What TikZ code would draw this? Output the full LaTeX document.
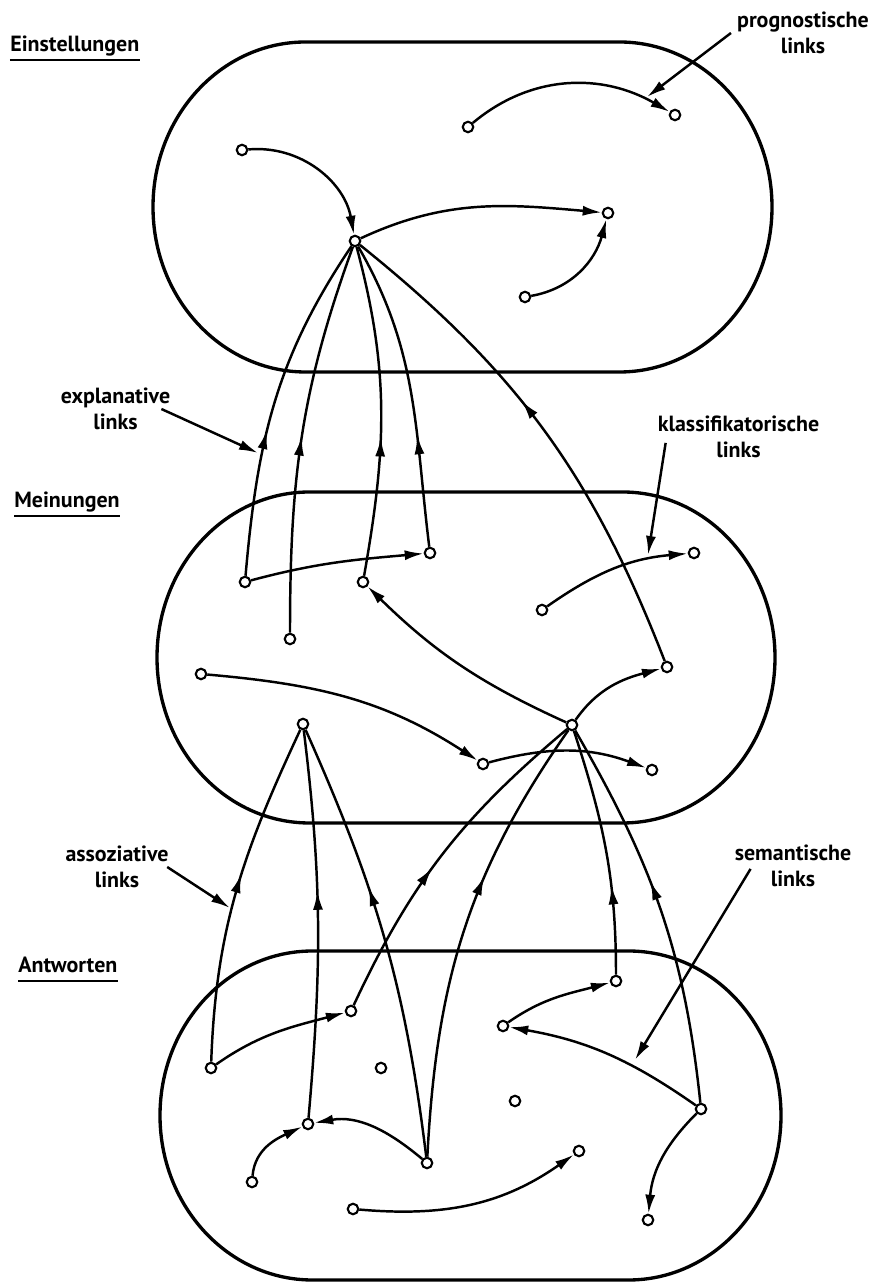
\documentclass[tikz,border=0pt]{standalone}
\usepackage{fontspec}
\setmainfont{PT Sans}
\usetikzlibrary{arrows.meta,decorations.markings}

\begin{document}
\begin{tikzpicture}[>={Latex[length=3.8mm,width=2mm]},
      every node/.append style={font=\fontsize{12.5}{14.5}\selectfont\bfseries},
      dot/.style={circle, draw, fill=white, line width=1.2pt, minimum size=2.1mm, inner sep=0pt},
      layer/.style={line width=1.9pt},
      link/.style={->, line width=1.4pt},
      uplink/.style={line width=1.4pt, postaction={decorate,
          decoration={markings, mark=at position #1 with {\arrow{>}}}}},
      heading/.style={anchor=base west, inner sep=0pt},
      uline/.style={line width=1.6pt},
      lbl/.style={align=center}]

    \useasboundingbox (0,0) rectangle (17.5,25.66);

    % ---------------- the three layers ----------------
    \foreach \xa/\xb/\yb/\yt in {3.06/15.44/18.22/24.82, 3.14/15.50/9.20/15.82, 3.20/15.62/0.06/6.64}
      \draw[layer] (\xa+3.05,\yt) -- (\xb-3.05,\yt)
        arc[start angle=90, end angle=-90, x radius=3.05, y radius={(\yt-\yb)/2}]
        -- (\xa+3.05,\yb)
        arc[start angle=270, end angle=90, x radius=3.05, y radius={(\yt-\yb)/2}] -- cycle;

    \node[heading] (einst) at (0.20,24.62) {Einstellungen};
    \node[heading] (mein)  at (0.28,15.50) {Meinungen};
    \node[heading] (antw)  at (0.36,6.20)  {Antworten};
    \foreach \n in {einst, mein, antw}
      \draw[uline] ([yshift=-0.16cm]\n.base west) -- ([yshift=-0.16cm]\n.base east);

    % ---------------- link labels ----------------
    \node[lbl] (prog)  at (16.06,25.00) {prognostische\\links};
    \node[lbl] (expl)  at (2.31,17.48)  {explanative\\links};
    \node[lbl] (klass) at (14.77,16.92) {klassifikatorische\\links};
    \node[lbl] (assoz) at (2.34,8.32)   {assoziative\\links};
    \node[lbl] (sem)   at (15.86,8.34)  {semantische\\links};

    \coordinate (prog-tip)  at (12.94,23.72);
    \coordinate (expl-tip)  at (5.16,16.60);
    \coordinate (klass-tip) at (12.96,14.56);
    \coordinate (assoz-tip) at (4.60,7.50);
    \coordinate (sem-tip)   at (12.70,4.46);

    \draw[link] (prog.west) -- (prog-tip);
    \draw[link] ([xshift=-0.3cm]expl.east) -- (expl-tip);
    \draw[link] ([shift={(0.28,0.42)}]klass.south west) -- (klass-tip);
    \draw[link] ([xshift=-0.15cm]assoz.east) -- (assoz-tip);
    \draw[link] ([shift={(0.44,0.48)}]sem.south west) -- (sem-tip);

    % ---------------- Einstellungen ----------------
    \node[dot] (e1) at (4.84,22.66) {};
    \node[dot] (e2) at (7.10,20.84) {};
    \node[dot] (e3) at (9.36,23.12) {};
    \node[dot] (e4) at (13.50,23.36) {};
    \node[dot] (e5) at (12.16,21.40) {};
    \node[dot] (e6) at (10.50,19.72) {};

    \draw[link] (e1) to[out=5, in=100] (e2);
    \draw[link] (e3) to[out=40, in=150] (e4);
    \draw[link] (e2) to[out=25, in=175] (e5);
    \draw[link] (e6) to[out=10, in=255] (e5);

    % ---------------- Meinungen ----------------
    \node[dot] (m1)  at (4.90,14.02) {};
    \node[dot] (m2)  at (5.80,12.88) {};
    \node[dot] (m3)  at (7.26,14.02) {};
    \node[dot] (m4)  at (8.60,14.60) {};
    \node[dot] (m5)  at (4.02,12.18) {};
    \node[dot] (m6)  at (6.06,11.18) {};
    \node[dot] (m7)  at (10.84,13.46) {};
    \node[dot] (m8)  at (13.88,14.60) {};
    \node[dot] (m9)  at (11.44,11.16) {};
    \node[dot] (m10) at (13.34,12.32) {};
    \node[dot] (m11) at (9.66,10.38) {};
    \node[dot] (m12) at (13.04,10.26) {};

    \draw[link] (m1) to[out=15, in=185] (m4);
    \draw[link] (m7) to[out=35, in=185] (m8);
    \draw[link] (m9) to[bend left=10] (m3);
    \draw[link] (m9) to[out=55, in=195] (m10);
    \draw[link] (m5) to[out=-5, in=147] (m11);
    \draw[link] (m11) to[out=15, in=160] (m12);

    % explanative links up to Einstellungen
    \draw[uplink=0.42] (m1) to[out=85, in=236] (e2);
    \draw[uplink=0.5]  (m2) to[out=90, in=250] (e2);
    \draw[uplink=0.42] (m3) to[out=80, in=285] (e2);
    \draw[uplink=0.36] (m4) to[out=97, in=300] (e2);
    \draw[uplink=0.57] (m10) to[bend right=15] (e2);

    % ---------------- Antworten ----------------
    \node[dot] (a1)  at (4.22,4.30) {};
    \node[dot] (a2)  at (7.02,5.44) {};
    \node[dot] (a3)  at (7.62,4.30) {};
    \node[dot] (a4)  at (6.16,3.18) {};
    \node[dot] (a5)  at (5.04,2.02) {};
    \node[dot] (a6)  at (8.54,2.40) {};
    \node[dot] (a7)  at (7.06,1.48) {};
    \node[dot] (a8)  at (12.32,6.04) {};
    \node[dot] (a9)  at (10.06,5.14) {};
    \node[dot] (a10) at (10.30,3.64) {};
    \node[dot] (a11) at (11.58,2.64) {};
    \node[dot] (a12) at (14.02,3.48) {};
    \node[dot] (a13) at (12.96,1.26) {};

    \draw[link] (a1) to[out=35, in=195] (a2);
    \draw[link] (a5) to[out=85, in=205] (a4);
    \draw[link] (a6) to[out=140, in=10] (a4);
    \draw[link] (a7) to[out=-5, in=215] (a11);
    \draw[link] (a9) to[out=35, in=195] (a8);
    \draw[link] (a12) to[out=145, in=-10] (a9);
    \draw[link] (a12) to[out=225, in=85] (a13);

    % assoziative links up to Meinungen
    \draw[uplink=0.55]  (a1) to[out=88, in=245] (m6);
    \draw[uplink=0.585] (a4) to[out=85, in=277] (m6);
    \draw[uplink=0.62]  (a6) to[out=97, in=294] (m6);
    \draw[uplink=0.45]  (a2) to[out=65, in=220] (m9);
    \draw[uplink=0.63]  (a6) to[out=87, in=235] (m9);
    \draw[uplink=0.36]  (a8) to[out=90, in=288] (m9);
    \draw[uplink=0.575] (a12) to[out=96, in=300] (m9);
  \end{tikzpicture}
\end{document}
